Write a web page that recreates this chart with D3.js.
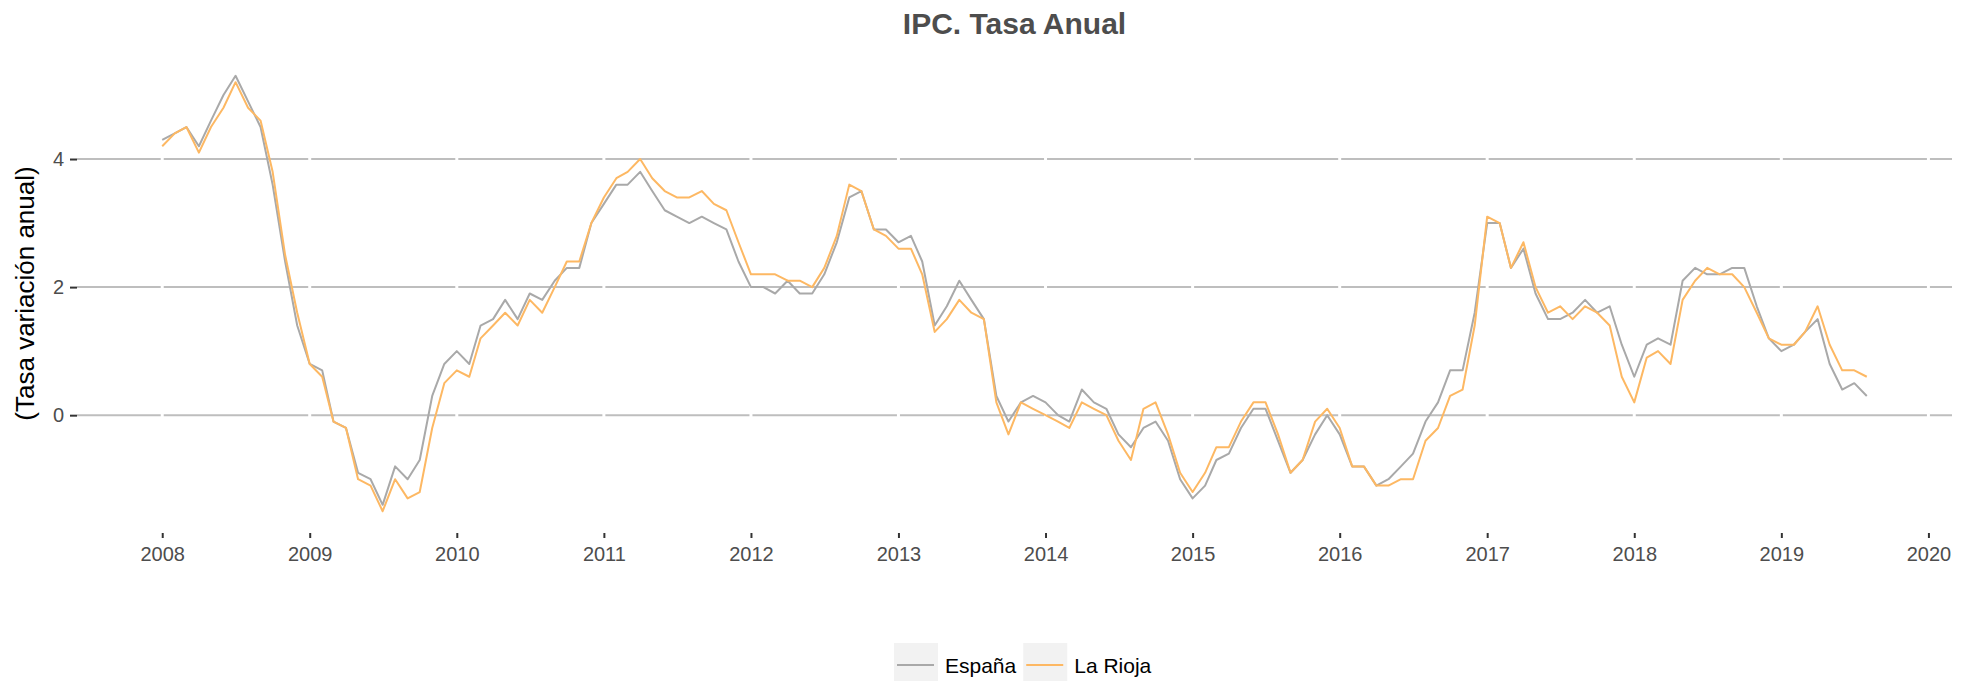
<!DOCTYPE html>
<meta charset="utf-8">
<style>
    body { margin: 0; background: #fff; }
    svg { font-family: "Liberation Sans", Arial, sans-serif; }
    .tick text { fill: #4d4d4d; font-size: 20px; }
    .tick line { stroke: #333; stroke-width: 2; }
</style>
<svg width="1970" height="681"></svg>
<script src="https://cdn.jsdelivr.net/npm/d3@7/dist/d3.min.js"></script>
<script>

    // IPC, tasa anual (%), mensual desde enero 2008
    var startMonth = "2008-01";
    var espana = [
        4.3, 4.4, 4.5, 4.2, 4.6, 5.0, 5.3, 4.9, 4.5, 3.6, 2.4, 1.4,
        0.8, 0.7, -0.1, -0.2, -0.9, -1.0, -1.4, -0.8, -1.0, -0.7, 0.3, 0.8,
        1.0, 0.8, 1.4, 1.5, 1.8, 1.5, 1.9, 1.8, 2.1, 2.3, 2.3, 3.0,
        3.3, 3.6, 3.6, 3.8, 3.5, 3.2, 3.1, 3.0, 3.1, 3.0, 2.9, 2.4,
        2.0, 2.0, 1.9, 2.1, 1.9, 1.9, 2.2, 2.7, 3.4, 3.5, 2.9, 2.9,
        2.7, 2.8, 2.4, 1.4, 1.7, 2.1, 1.8, 1.5, 0.3, -0.1, 0.2, 0.3,
        0.2, 0.0, -0.1, 0.4, 0.2, 0.1, -0.3, -0.5, -0.2, -0.1, -0.4, -1.0,
        -1.3, -1.1, -0.7, -0.6, -0.2, 0.1, 0.1, -0.4, -0.9, -0.7, -0.3, 0.0,
        -0.3, -0.8, -0.8, -1.1, -1.0, -0.8, -0.6, -0.1, 0.2, 0.7, 0.7, 1.6,
        3.0, 3.0, 2.3, 2.6, 1.9, 1.5, 1.5, 1.6, 1.8, 1.6, 1.7, 1.1,
        0.6, 1.1, 1.2, 1.1, 2.1, 2.3, 2.2, 2.2, 2.3, 2.3, 1.7, 1.2,
        1.0, 1.1, 1.3, 1.5, 0.8, 0.4, 0.5, 0.3
    ];
    var rioja = [
        4.2, 4.4, 4.5, 4.1, 4.5, 4.8, 5.2, 4.8, 4.6, 3.8, 2.5, 1.6,
        0.8, 0.6, -0.1, -0.2, -1.0, -1.1, -1.5, -1.0, -1.3, -1.2, -0.2, 0.5,
        0.7, 0.6, 1.2, 1.4, 1.6, 1.4, 1.8, 1.6, 2.0, 2.4, 2.4, 3.0,
        3.4, 3.7, 3.8, 4.0, 3.7, 3.5, 3.4, 3.4, 3.5, 3.3, 3.2, 2.7,
        2.2, 2.2, 2.2, 2.1, 2.1, 2.0, 2.3, 2.8, 3.6, 3.5, 2.9, 2.8,
        2.6, 2.6, 2.2, 1.3, 1.5, 1.8, 1.6, 1.5, 0.2, -0.3, 0.2, 0.1,
        0.0, -0.1, -0.2, 0.2, 0.1, 0.0, -0.4, -0.7, 0.1, 0.2, -0.3, -0.9,
        -1.2, -0.9, -0.5, -0.5, -0.1, 0.2, 0.2, -0.3, -0.9, -0.7, -0.1, 0.1,
        -0.2, -0.8, -0.8, -1.1, -1.1, -1.0, -1.0, -0.4, -0.2, 0.3, 0.4, 1.4,
        3.1, 3.0, 2.3, 2.7, 2.0, 1.6, 1.7, 1.5, 1.7, 1.6, 1.4, 0.6,
        0.2, 0.9, 1.0, 0.8, 1.8, 2.1, 2.3, 2.2, 2.2, 2.0, 1.6, 1.2,
        1.1, 1.1, 1.3, 1.7, 1.1, 0.7, 0.7, 0.6
    ];
    var seriesNames = ["España", "La Rioja"];
    var seriesColors = ["#a9a9a9", "#fdb863"];
    var yTicks = [0, 2, 4];
    var xTickYears = [2008, 2009, 2010, 2011, 2012, 2013, 2014, 2015, 2016, 2017, 2018, 2019, 2020];

    var width = 1970,
        height = 681,
        margin = {top: 54, right: 18, bottom: 148, left: 77};

    var parseMonth = d3.timeParse("%Y-%m");
    var t0 = parseMonth(startMonth);
    var months = espana.map(function(d, i) { return d3.timeMonth.offset(t0, i); });

    var series = [espana, rioja].map(function(vals, k) {
        return {
            name: seriesNames[k],
            color: seriesColors[k],
            values: vals.map(function(v, i) { return {date: months[i], value: v}; })
        };
    });

    // ggplot-style 5% expansion
    var tFirst = months[0], tLast = months[months.length - 1];
    var tPad = (tLast - tFirst) * 0.05;
    var x = d3.scaleTime()
        .domain([new Date(+tFirst - tPad), new Date(+tLast + tPad)])
        .range([margin.left, width - margin.right]);

    var allVals = espana.concat(rioja);
    var yMin = d3.min(allVals), yMax = d3.max(allVals);
    var yPad = (yMax - yMin) * 0.05;
    var y = d3.scaleLinear()
        .domain([yMin - yPad, yMax + yPad])
        .range([height - margin.bottom, margin.top]);

    var svg = d3.select("svg");

    var yearDates = xTickYears.map(function(yr) { return new Date(yr, 0, 1); });

    // horizontal grid
    svg.append("g").selectAll("line")
        .data(yTicks)
        .enter().append("line")
        .attr("x1", margin.left)
        .attr("x2", width - margin.right)
        .attr("y1", function(d) { return y(d); })
        .attr("y2", function(d) { return y(d); })
        .attr("stroke", "#bebebe")
        .attr("stroke-width", 2);

    // white vertical grid (cuts the horizontal lines)
    svg.append("g").selectAll("line")
        .data(yearDates)
        .enter().append("line")
        .attr("x1", function(d) { return x(d); })
        .attr("x2", function(d) { return x(d); })
        .attr("y1", margin.top)
        .attr("y2", height - margin.bottom)
        .attr("stroke", "#fff")
        .attr("stroke-width", 3);

    var line = d3.line()
        .x(function(d) { return x(d.date); })
        .y(function(d) { return y(d.value); });

    svg.append("g").selectAll("path")
        .data(series)
        .enter().append("path")
        .attr("d", function(d) { return line(d.values); })
        .attr("fill", "none")
        .attr("stroke", function(d) { return d.color; })
        .attr("stroke-width", 2)
        .attr("stroke-linejoin", "round");

    // axes
    var xAxis = svg.append("g")
        .attr("transform", "translate(0," + (height - margin.bottom) + ")")
        .call(d3.axisBottom(x)
            .tickValues(yearDates)
            .tickFormat(d3.timeFormat("%Y"))
            .tickSize(5)
            .tickPadding(9));
    xAxis.select(".domain").remove();

    var yAxis = svg.append("g")
        .attr("transform", "translate(" + margin.left + ",0)")
        .call(d3.axisLeft(y)
            .tickValues(yTicks)
            .tickFormat(d3.format("d"))
            .tickSize(7)
            .tickPadding(6));
    yAxis.select(".domain").remove();

    // title
    svg.append("text")
        .attr("x", (margin.left + width - margin.right) / 2)
        .attr("y", 34)
        .attr("text-anchor", "middle")
        .attr("font-size", 30)
        .attr("font-weight", "bold")
        .attr("fill", "#4d4d4d")
        .text("IPC. Tasa Anual");

    // y title
    svg.append("text")
        .attr("transform", "translate(34," + ((margin.top + height - margin.bottom) / 2) + ") rotate(-90)")
        .attr("text-anchor", "middle")
        .attr("font-size", 26)
        .attr("fill", "#000")
        .text("(Tasa variación anual)");

    // legend
    var legend = svg.append("g");
    var lx = 894, keySize = 44, keyTop = 643;
    series.forEach(function(s) {
        legend.append("rect")
            .attr("x", lx).attr("y", keyTop)
            .attr("width", keySize).attr("height", keySize)
            .attr("fill", "#f2f2f2");
        legend.append("line")
            .attr("x1", lx + 3).attr("x2", lx + keySize - 4)
            .attr("y1", keyTop + keySize / 2).attr("y2", keyTop + keySize / 2)
            .attr("stroke", s.color)
            .attr("stroke-width", 2);
        var t = legend.append("text")
            .attr("x", lx + keySize + 7)
            .attr("y", 673)
            .attr("font-size", 21)
            .attr("fill", "#000")
            .text(s.name);
        lx += keySize + 7 + t.node().getComputedTextLength() + 7;
    });

</script>
